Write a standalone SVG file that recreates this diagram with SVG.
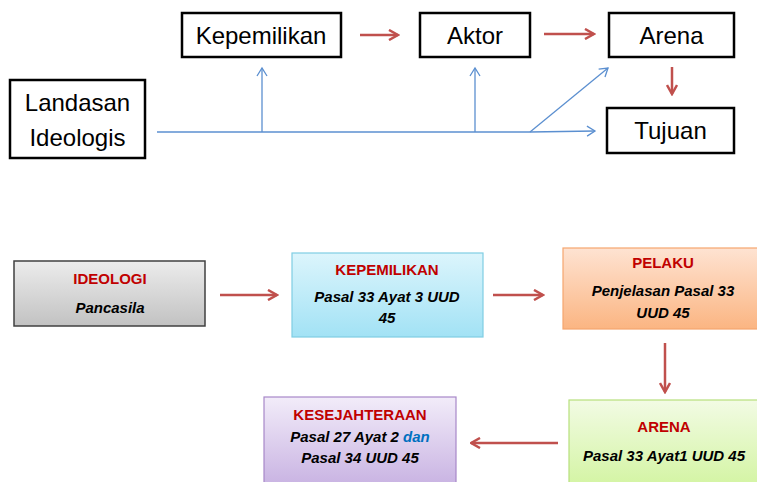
<svg xmlns="http://www.w3.org/2000/svg" width="757" height="482" viewBox="0 0 757 482">
<style>
.bx{fill:#fff;stroke:#000;stroke-width:2.5}
.t1{font-family:"Liberation Sans",Arial,sans-serif;font-size:24px;fill:#000;text-anchor:middle}
.hd{font-family:"Liberation Sans",Arial,sans-serif;font-size:15px;font-weight:bold;fill:#c00000;text-anchor:middle}
.bd{font-family:"Liberation Sans",Arial,sans-serif;font-size:15px;font-weight:bold;font-style:italic;fill:#000;text-anchor:middle}
.red{fill:none;stroke:#c0504d;stroke-width:2.5;marker-end:url(#ar)}
.blu{fill:none;stroke:#5b8fd0;stroke-width:1.3}
.bla{marker-end:url(#ab)}
</style>
<defs>
<marker id="ar" viewBox="0 0 12 12" refX="10.5" refY="6" markerWidth="12" markerHeight="12" markerUnits="userSpaceOnUse" orient="auto"><path d="M1.5,1 L10.5,6 L1.5,11" fill="none" stroke="#c0504d" stroke-width="2.5"/></marker>
<marker id="ab" viewBox="0 0 12 12" refX="10" refY="6" markerWidth="12" markerHeight="12" markerUnits="userSpaceOnUse" orient="auto"><path d="M2,1 L10,6 L2,11" fill="none" stroke="#5b8fd0" stroke-width="1.3"/></marker>
<linearGradient id="gGray" x1="0" y1="0" x2="0" y2="1"><stop offset="0" stop-color="#ececec"/><stop offset="1" stop-color="#c2c2c2"/></linearGradient>
<linearGradient id="gBlue" x1="0" y1="0" x2="0" y2="1"><stop offset="0" stop-color="#dcf5fc"/><stop offset="1" stop-color="#a2e2f5"/></linearGradient>
<linearGradient id="gOrange" x1="0" y1="0" x2="0" y2="1"><stop offset="0" stop-color="#fee3d2"/><stop offset="1" stop-color="#fbb582"/></linearGradient>
<linearGradient id="gGreen" x1="0" y1="0" x2="0" y2="1"><stop offset="0" stop-color="#f2fbe4"/><stop offset="1" stop-color="#d2f4a0"/></linearGradient>
<linearGradient id="gPurple" x1="0" y1="0" x2="0" y2="1"><stop offset="0" stop-color="#f2ecf9"/><stop offset="1" stop-color="#c8b2e2"/></linearGradient>
</defs>

<g id="connectors">
<path class="blu" d="M157,132 L530,132"/>
<path class="blu bla" d="M262,132 L262,68"/>
<path class="blu bla" d="M475,132 L475,68"/>
<path class="blu bla" d="M530,132 L608,68"/>
<path class="blu bla" d="M530,132 L595,131"/>
<path class="red" d="M360,35 L398,35"/>
<path class="red" d="M544,34 L594,34"/>
<path class="red" d="M672,67 L672,94"/>
<path class="red" d="M220,295 L277,295"/>
<path class="red" d="M493,295 L543,295"/>
<path class="red" d="M665,343 L665,392"/>
<path class="red" d="M558,443 L471,443"/>
</g>

<g id="landasan"><rect class="bx" x="10" y="80" width="135" height="78"/><text class="t1" x="77.5" y="111">Landasan</text><text class="t1" x="77.5" y="146">Ideologis</text></g>
<g id="kepemilikan"><rect class="bx" x="182" y="13" width="159" height="44"/><text class="t1" x="261" y="44">Kepemilikan</text></g>
<g id="aktor"><rect class="bx" x="420" y="13" width="110" height="44"/><text class="t1" x="475" y="44">Aktor</text></g>
<g id="arena"><rect class="bx" x="609" y="13" width="125" height="44"/><text class="t1" x="671.5" y="44">Arena</text></g>
<g id="tujuan"><rect class="bx" x="607" y="108" width="127" height="45"/><text class="t1" x="670.5" y="139">Tujuan</text></g>

<g id="ideologi"><rect x="14" y="261" width="191" height="65" fill="url(#gGray)" stroke="#404040" stroke-width="1.5"/><text class="hd" x="110" y="284">IDEOLOGI</text><text class="bd" x="110" y="313">Pancasila</text></g>
<g id="kepemilikan2"><rect x="292" y="253" width="191" height="84" fill="url(#gBlue)" stroke="#7fcde3" stroke-width="1.2"/><text class="hd" x="387" y="275">KEPEMILIKAN</text><text class="bd" x="387" y="302">Pasal 33 Ayat 3 UUD</text><text class="bd" x="387" y="323">45</text></g>
<g id="pelaku"><rect x="563" y="248" width="200" height="81" fill="url(#gOrange)" stroke="#f6a66e" stroke-width="1.2"/><text class="hd" x="663" y="268">PELAKU</text><text class="bd" x="663" y="296">Penjelasan Pasal 33</text><text class="bd" x="663" y="318">UUD 45</text></g>
<g id="arena2"><rect x="569" y="400" width="200" height="90" fill="url(#gGreen)" stroke="#b7e07c" stroke-width="1.2"/><text class="hd" x="664" y="432">ARENA</text><text class="bd" x="664" y="461">Pasal 33 Ayat1 UUD 45</text></g>
<g id="kesejahteraan"><rect x="264" y="397" width="192" height="90" fill="url(#gPurple)" stroke="#a788c8" stroke-width="1.2"/><text class="hd" x="360" y="420">KESEJAHTERAAN</text><text class="bd" x="360" y="442">Pasal 27 Ayat 2 <tspan fill="#0070c0">dan</tspan></text><text class="bd" x="360" y="463">Pasal 34 UUD 45</text></g>
</svg>
